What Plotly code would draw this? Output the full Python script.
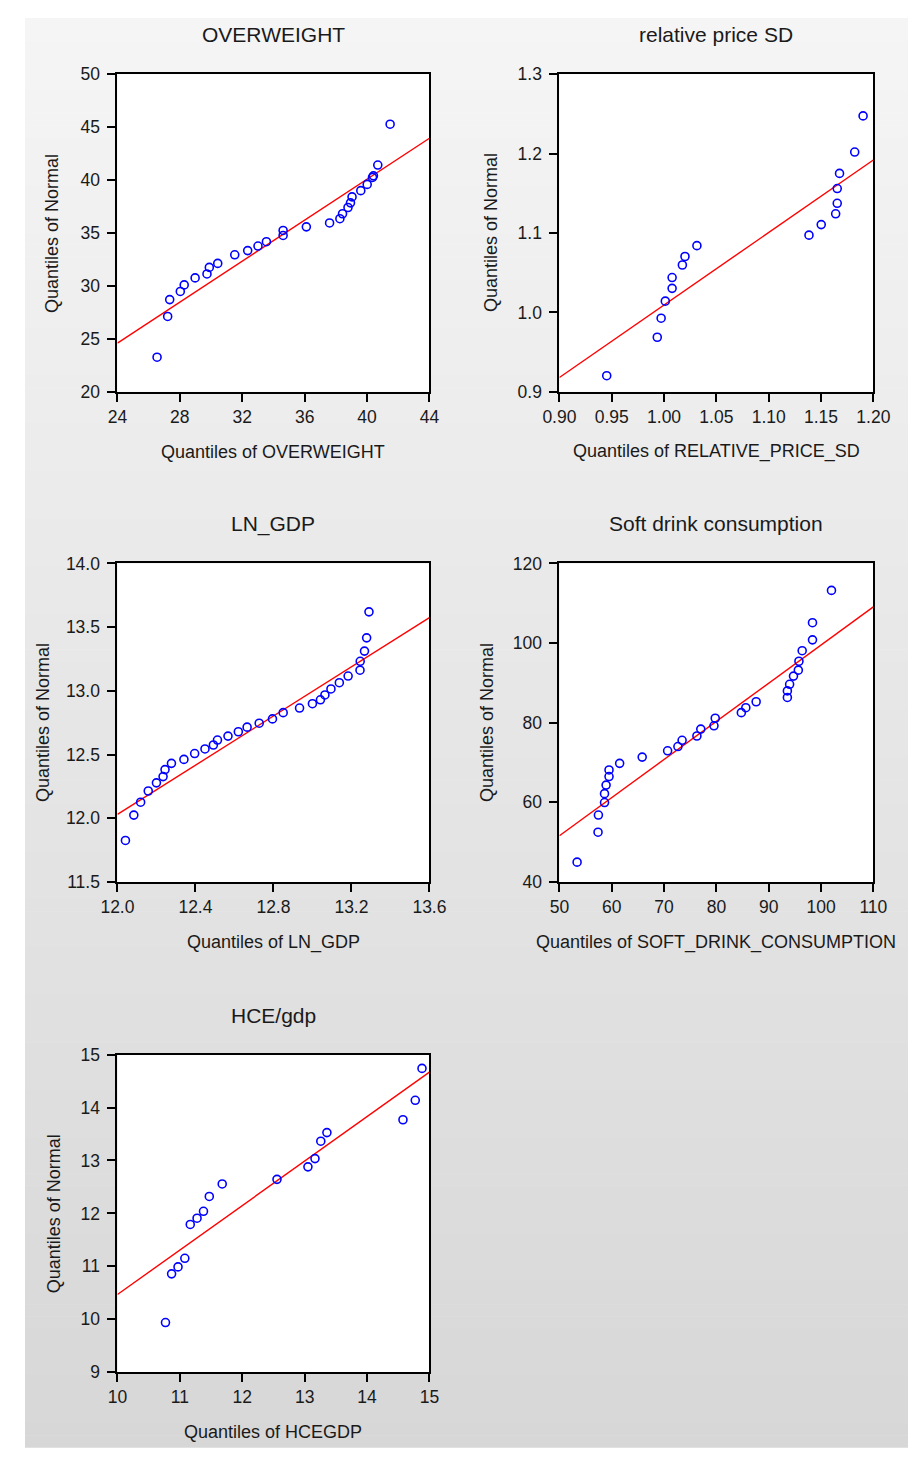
import plotly.graph_objects as go

# ---------------- data ----------------
titles = ["OVERWEIGHT", "relative price SD", "LN_GDP", "Soft drink consumption", "HCE/gdp"]
x_titles = ["Quantiles of OVERWEIGHT", "Quantiles of RELATIVE_PRICE_SD", "Quantiles of LN_GDP",
            "Quantiles of SOFT_DRINK_CONSUMPTION", "Quantiles of HCEGDP"]
y_title = "Quantiles of Normal"

ow_x = [26.54, 27.22, 27.35, 28.03, 28.28, 28.98, 29.74, 29.89, 30.43, 31.52, 32.35, 33.01, 33.55, 34.62,
        34.62, 36.11, 37.60, 38.26, 38.43, 38.78, 38.94, 39.04, 39.60, 40.01, 40.35, 40.41, 40.69, 41.48]
ow_y = [23.27, 27.12, 28.71, 29.48, 30.10, 30.76, 31.13, 31.75, 32.13, 32.94, 33.34, 33.77, 34.18, 34.77,
        35.24, 35.58, 35.95, 36.35, 36.82, 37.41, 37.85, 38.41, 39.00, 39.59, 40.25, 40.40, 41.42, 45.28]
ow_line_x = [24, 44]
ow_line_y = [24.6, 43.95]

rp_x = [0.9452, 0.9935, 0.9972, 1.0012, 1.0077, 1.0077, 1.0175, 1.0200, 1.0314, 1.1385, 1.1502, 1.1640,
        1.1655, 1.1655, 1.1677, 1.1822, 1.1902]
rp_y = [0.9203, 0.9687, 0.9927, 1.0142, 1.0303, 1.0439, 1.0597, 1.0704, 1.0841, 1.0973, 1.1106, 1.1242,
        1.1374, 1.1560, 1.1751, 1.2020, 1.2475]
rp_line_x = [0.90, 1.20]
rp_line_y = [0.918, 1.192]

ln_x = [12.041, 12.084, 12.119, 12.158, 12.200, 12.234, 12.244, 12.277, 12.341, 12.396, 12.449, 12.492,
        12.513, 12.567, 12.620, 12.665, 12.727, 12.795, 12.850, 12.934, 13.000, 13.041, 13.064, 13.095,
        13.138, 13.183, 13.244, 13.245, 13.267, 13.278, 13.290]
ln_y = [11.826, 12.025, 12.126, 12.214, 12.278, 12.327, 12.382, 12.431, 12.462, 12.508, 12.544, 12.575,
        12.614, 12.645, 12.679, 12.715, 12.746, 12.780, 12.829, 12.865, 12.899, 12.930, 12.968, 13.015,
        13.064, 13.116, 13.162, 13.232, 13.312, 13.416, 13.620]
ln_line_x = [12.0, 13.6]
ln_line_y = [12.03, 13.575]

sd_x = [53.38, 57.38, 57.45, 58.62, 58.62, 58.92, 59.48, 59.48, 61.51, 65.82, 70.68, 72.65, 73.45, 76.28,
        77.02, 79.54, 79.78, 84.77, 85.63, 87.60, 93.57, 93.57, 94.00, 94.74, 95.66, 95.78, 96.40, 98.37,
        98.37, 102.0]
sd_y = [44.98, 52.50, 56.81, 59.95, 62.18, 64.33, 66.48, 68.14, 69.79, 71.36, 72.94, 74.01, 75.58, 76.66,
        78.40, 79.22, 81.12, 82.53, 83.77, 85.26, 86.34, 87.99, 89.64, 91.71, 93.20, 95.43, 98.08, 100.81,
        105.11, 113.22]
sd_line_x = [50, 110]
sd_line_y = [51.6, 109.1]

hce_x = [10.770, 10.868, 10.971, 11.080, 11.167, 11.276, 11.379, 11.472, 11.679, 12.557, 13.053, 13.166,
         13.259, 13.357, 14.576, 14.773, 14.881]
hce_y = [9.938, 10.858, 10.989, 11.151, 11.791, 11.909, 12.040, 12.320, 12.556, 12.643, 12.879, 13.035,
         13.364, 13.526, 13.769, 14.136, 14.739]
hce_line_x = [10, 15]
hce_line_y = [10.467, 14.668]

ticks = [
    dict(xv=[24, 28, 32, 36, 40, 44], xt=["24", "28", "32", "36", "40", "44"],
         yv=[20, 25, 30, 35, 40, 45, 50], yt=["20", "25", "30", "35", "40", "45", "50"],
         xr=[24, 44], yr=[20, 50]),
    dict(xv=[0.90, 0.95, 1.00, 1.05, 1.10, 1.15, 1.20],
         xt=["0.90", "0.95", "1.00", "1.05", "1.10", "1.15", "1.20"],
         yv=[0.9, 1.0, 1.1, 1.2, 1.3], yt=["0.9", "1.0", "1.1", "1.2", "1.3"],
         xr=[0.90, 1.20], yr=[0.9, 1.3]),
    dict(xv=[12.0, 12.4, 12.8, 13.2, 13.6], xt=["12.0", "12.4", "12.8", "13.2", "13.6"],
         yv=[11.5, 12.0, 12.5, 13.0, 13.5, 14.0], yt=["11.5", "12.0", "12.5", "13.0", "13.5", "14.0"],
         xr=[12.0, 13.6], yr=[11.5, 14.0]),
    dict(xv=[50, 60, 70, 80, 90, 100, 110], xt=["50", "60", "70", "80", "90", "100", "110"],
         yv=[40, 60, 80, 100, 120], yt=["40", "60", "80", "100", "120"],
         xr=[50, 110], yr=[40, 120]),
    dict(xv=[10, 11, 12, 13, 14, 15], xt=["10", "11", "12", "13", "14", "15"],
         yv=[9, 10, 11, 12, 13, 14, 15], yt=["9", "10", "11", "12", "13", "14", "15"],
         xr=[10, 15], yr=[9, 15]),
]

series = [(ow_x, ow_y, ow_line_x, ow_line_y), (rp_x, rp_y, rp_line_x, rp_line_y),
          (ln_x, ln_y, ln_line_x, ln_line_y), (sd_x, sd_y, sd_line_x, sd_line_y),
          (hce_x, hce_y, hce_line_x, hce_line_y)]

# ---------------- layout geometry (page pixels; page has an 8px body margin) ----------------
W, H = 917, 1459
OFF = 8
boxes = [  # x0, x1, ytop, ybottom in page pixels
    (104, 428, 65, 387),
    (563, 889, 65, 387),
    (104, 428, 561, 884),
    (563, 889, 561, 884),
    (104, 428, 1059, 1381),
]
ytitle_x = [36, 492, 26, 487, 38]


def px(x):
    return (x - OFF) / W


def py(y):
    return 1 - (y - OFF) / H


FONT = "Liberation Sans, Arial, sans-serif"
TXT = "#1a1a1a"

fig = go.Figure()
layout = dict(width=W, height=H, margin=dict(l=0, r=0, t=0, b=0),
              paper_bgcolor="white", plot_bgcolor="white", showlegend=False,
              font=dict(family=FONT, color=TXT))

shapes = []
# gradient background (page 8..925 x 8..1457)
nb = 120
gy0, gy1 = 8, 1457
for i in range(nb):
    t = i / (nb - 1)
    c = int(round(245 - 30 * t))
    ya = gy0 + (gy1 - gy0) * i / nb
    yb = gy0 + (gy1 - gy0) * (i + 1) / nb + 0.6
    shapes.append(dict(type="rect", xref="paper", yref="paper", layer="below",
                       x0=0, x1=1, y0=py(yb), y1=py(ya),
                       line=dict(width=0), fillcolor=f"rgb({c},{c},{c})"))

annotations = []
for k, (box, tk, (sx, sy, lx, ly)) in enumerate(zip(boxes, ticks, series)):
    n = "" if k == 0 else str(k + 1)
    x0, x1, yt, yb = box
    common = dict(showgrid=False, zeroline=False, showline=True, mirror=True,
                  linecolor="black", linewidth=2, ticks="outside", ticklen=8, tickwidth=2,
                  tickcolor="black", tickfont=dict(size=17.5, family=FONT, color=TXT))
    xa = dict(domain=[px(x0), px(x1)], range=tk["xr"], tickvals=tk["xv"], ticktext=tk["xt"],
              anchor="y" + n, **common)
    ya_ = dict(domain=[py(yb), py(yt)], range=tk["yr"], tickvals=tk["yv"], ticktext=tk["yt"],
               anchor="x" + n, ticklabelstandoff=4, **common)
    layout["xaxis" + n] = xa
    layout["yaxis" + n] = ya_
    shapes.append(dict(type="rect", xref=f"x{n} domain", yref=f"y{n} domain", layer="below",
                       x0=0, x1=1, y0=0, y1=1, line=dict(width=0), fillcolor="white"))
    fig.add_trace(go.Scatter(x=lx, y=ly, mode="lines", xaxis="x" + n, yaxis="y" + n,
                             line=dict(color="#ff0000", width=1.4), hoverinfo="skip"))
    fig.add_trace(go.Scatter(x=sx, y=sy, mode="markers", xaxis="x" + n, yaxis="y" + n,
                             marker=dict(symbol="circle-open", size=8, color="#0000ff",
                                         line=dict(width=1.6, color="#0000ff"))))
    xc = (x0 + x1) / 2
    annotations.append(dict(text=titles[k], x=px(xc), y=py(yt - 40), xref="paper", yref="paper",
                            showarrow=False, xanchor="center", yanchor="middle",
                            font=dict(size=21, family=FONT, color=TXT)))
    annotations.append(dict(text=x_titles[k], x=px(xc), y=py(yb + 61), xref="paper",
                            yref="paper", showarrow=False, xanchor="center", yanchor="middle",
                            font=dict(size=18, family=FONT, color=TXT)))
    annotations.append(dict(text=y_title, x=px(ytitle_x[k]), y=py((yt + yb) / 2), xref="paper",
                            yref="paper", showarrow=False, xanchor="center", yanchor="middle",
                            textangle=-90, font=dict(size=18, family=FONT, color=TXT)))

layout["shapes"] = shapes
layout["annotations"] = annotations
fig.update_layout(**layout)
fig.write_html("out.html")
